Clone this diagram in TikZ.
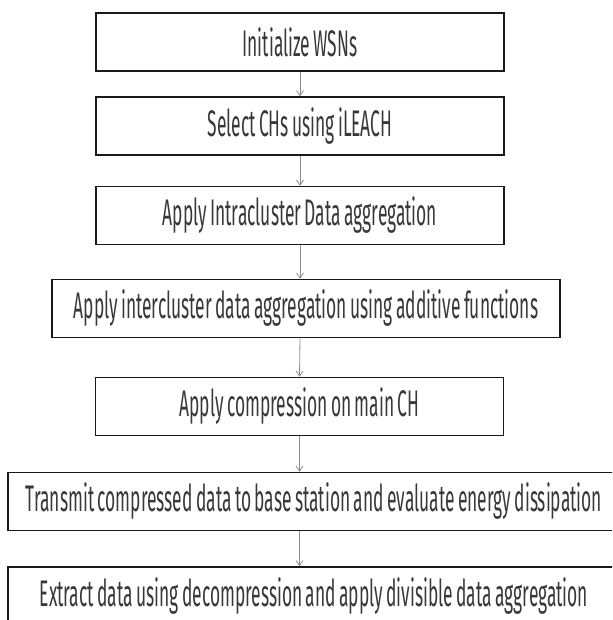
\documentclass[tikz,border=0pt]{standalone}
\usepackage{fontspec}
\setmainfont{Fira Sans}[FakeStretch=0.47, WordSpace=0.75]
\usetikzlibrary{arrows.meta}

\begin{document}
\begin{tikzpicture}[x=1pt,y=-1pt,
    stepbox/.style={draw=black!90, line width=1.6pt, minimum height=58pt, inner sep=0pt,
        font=\fontsize{37}{44}\selectfont, text=black!78},
    flow/.style={draw=black!45, line width=0.8pt, -{Straight Barb[length=5pt,width=7pt]}}]
    % Page size of the reference
    \path[use as bounding box, clip] (0,0) rectangle (612,620);

    % Define box widths
    \def\narrow{408}
    \def\medium{508}
    \def\wide{612}

    % Top three boxes (same width)
    \node[stepbox, minimum width=\narrow] (init) at (300,42) {Initialize WSNs};
    \node[stepbox, minimum width=\narrow] (select) at (300,126) {Select CHs using iLEACH};
    \node[stepbox, minimum width=\narrow] (intra) at (300,215.5) {Apply Intracluster Data aggregation};

    % Middle boxes
    \node[stepbox, minimum width=\medium] (inter) at (306,308.5) {Apply intercluster data aggregation using additive functions};
    \node[stepbox, minimum width=\narrow] (compress) at (299.5,406.5) {Apply compression on main CH};

    % Bottom boxes (run off the page)
    \node[stepbox, minimum width=\wide] (transmit) at (314,501.5) {Transmit compressed data to base station and evaluate energy dissipation};
    \node[stepbox, minimum width=\wide] (extract) at (314,596) {Extract data using decompression and apply divisible data aggregation};

    % Arrows
    \draw[flow] (init.south) -- (select.north);
    \draw[flow] (select.south) -- (intra.north);
    \draw[flow] (intra.south) -- (intra.south |- inter.north);
    \draw[flow] (intra.south |- inter.south) -- (compress.north);
    \draw[flow] (compress.south) -- (compress.south |- transmit.north);
    \draw[flow] (compress.south |- transmit.south) -- (compress.south |- extract.north);

\end{tikzpicture}
\end{document}
